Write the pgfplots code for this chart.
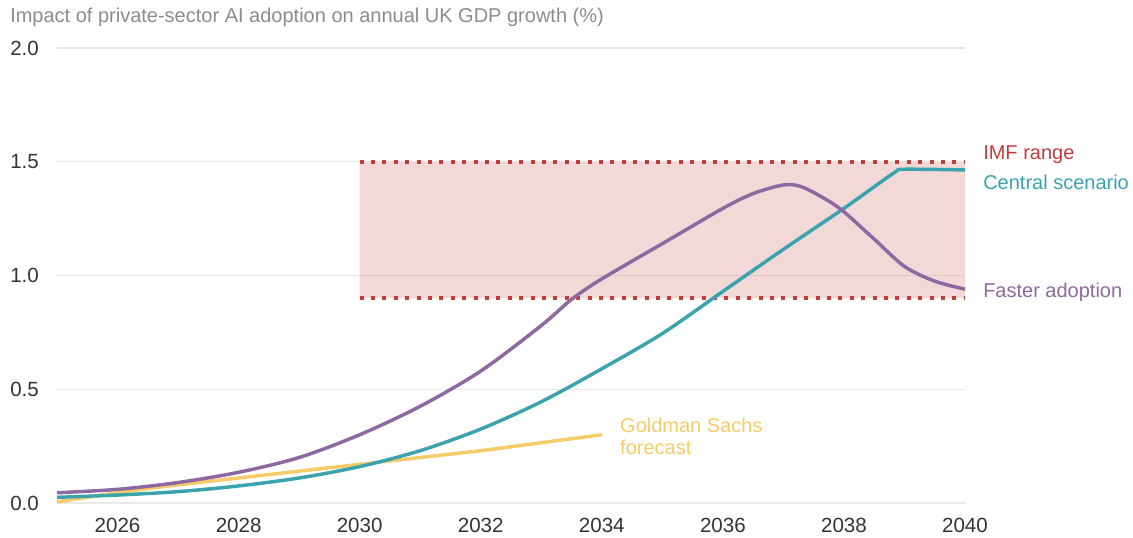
\documentclass[border=0pt]{standalone}
\usepackage{pgfplots}
\pgfplotsset{compat=1.18}
\usepackage{fontspec}
\setmainfont{Liberation Sans}
\definecolor{cpurple}{HTML}{8E68A0}
\definecolor{cteal}{HTML}{3AA3AE}
\definecolor{cyellow}{HTML}{F6CC68}
\definecolor{cred}{HTML}{C43C3A}
\definecolor{ctitle}{HTML}{8C8C8C}
\definecolor{ctick}{HTML}{333333}
\definecolor{cgrid}{HTML}{E9E9E9}
\begin{document}
\begin{tikzpicture}
\useasboundingbox (-42.75pt,-25.5pt) rectangle (807pt,377.25pt);
\node[anchor=west, inner sep=0pt, text=ctitle, font=\fontsize{15}{17}\selectfont] at (-35.25pt,364pt) {Impact of private-sector AI adoption on annual UK GDP growth (\%)};
\begin{axis}[
  scale only axis, width=681pt, height=341.25pt,
  xmin=2025, xmax=2040, ymin=0, ymax=2,
  axis lines=left, axis line style={draw=none},
  major tick length=0pt,
  xtick={2026,2028,...,2040},
  ytick={0,0.5,1,1.5,2},
  ymajorgrids, grid style={cgrid, line width=0.9pt},
  xticklabel style={font=\fontsize{15.4}{18}\selectfont, text=ctick, anchor=center, yshift=-17pt, inner sep=0pt},
  yticklabel style={font=\fontsize{15.4}{18}\selectfont, text=ctick, anchor=west, xshift=-35.25pt, inner sep=0pt},
  xticklabel={\pgfmathprintnumber[1000 sep={},fixed]{\tick}},
  yticklabel={\pgfmathprintnumber[fixed,fixed zerofill,precision=1]{\tick}},
  /pgf/number format/assume math mode=true,
  clip=false,
]
\addplot[draw=none, fill=cred, fill opacity=0.2] coordinates {(2030,0.9) (2030,1.5) (2040,1.5) (2040,0.9) (2030,0.9)};
\addplot[cred, line width=2.9pt, dash pattern=on 2.9pt off 5.65pt] coordinates {(2030,1.5) (2040,1.5)};
\addplot[cred, line width=2.9pt, dash pattern=on 2.9pt off 5.65pt] coordinates {(2030,0.9) (2040,0.9)};
\addplot[cyellow, line width=2.6pt, smooth] coordinates {
(2025,0.005) (2026,0.045) (2027,0.08) (2028,0.11) (2029,0.14) (2030,0.17) (2031,0.20) (2032,0.23) (2033,0.265) (2034,0.30)};
\addplot[cteal, line width=2.6pt, smooth] coordinates {
(2025,0.025) (2026,0.035) (2027,0.05) (2028,0.075) (2029,0.11) (2030,0.16) (2031,0.23) (2032,0.325) (2033,0.445) (2034,0.59) (2035,0.745) (2036,0.93) (2037,1.115) (2038,1.295) (2038.5,1.39) (2038.85,1.455) (2039,1.467) (2040,1.464)};
\addplot[cpurple, line width=2.6pt, smooth] coordinates {
(2025,0.045) (2026,0.06) (2027,0.09) (2028,0.135) (2029,0.20) (2030,0.30) (2031,0.425) (2032,0.58) (2033,0.78) (2033.5,0.895) (2034,0.985) (2035,1.14) (2036,1.295) (2036.5,1.36) (2037,1.398) (2037.3,1.39) (2037.7,1.335) (2038,1.28) (2038.5,1.16) (2039,1.04) (2039.5,0.975) (2040,0.94)};
\node[anchor=west, inner sep=0pt, text=cred, font=\fontsize{15}{18}\selectfont] at (axis cs:2040,1.53) [xshift=13.5pt] {IMF range};
\node[anchor=west, inner sep=0pt, text=cteal, font=\fontsize{15}{18}\selectfont] at (axis cs:2040,1.41) [xshift=13.5pt] {Central scenario};
\node[anchor=west, inner sep=0pt, text=cpurple, font=\fontsize{15}{18}\selectfont] at (axis cs:2040,0.928) [xshift=13.5pt] {Faster adoption};
\node[anchor=west, inner sep=0pt, text=cyellow, font=\fontsize{15}{16}\selectfont, align=left] at (axis cs:2034.3,0.293) {Goldman Sachs\\forecast};
\end{axis}
\end{tikzpicture}
\end{document}
